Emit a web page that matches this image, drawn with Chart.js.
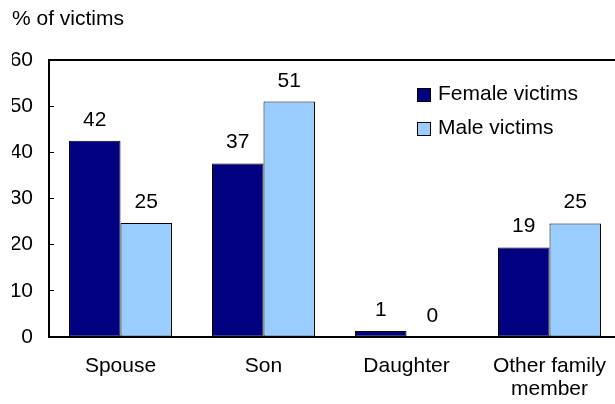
<!DOCTYPE html>
<html><head><meta charset="utf-8">
<script src="https://cdn.jsdelivr.net/npm/chart.js@4"></script>
<style>
html,body{margin:0;padding:0;overflow:hidden;background:#fff;width:615px;height:404px}
#wrap{position:absolute;left:0;top:0;width:625px;height:404px}
</style>
</head><body><div id="wrap"><canvas id="c"></canvas></div>
<script>
const categories = ['Spouse', 'Son', 'Daughter', ['Other family', 'member']];
const femaleValues = [42.5, 37.6, 1.3, 19.4];
const maleValues = [24.7, 51.0, 0, 24.6];
const femaleLabels = ['42', '37', '1', '19'];
const maleLabels = ['25', '51', '0', '25'];
const seriesNames = ['Female victims', 'Male victims'];
const yTitle = '% of victims';
const yMin = 0, yMax = 60, yStep = 10;

const FONT = '"Liberation Sans", Arial, sans-serif';
const FS = 21;
Chart.defaults.font.family = FONT;
Chart.defaults.font.size = FS;
Chart.defaults.color = '#000';

const valueLabelPlugin = {
  id: 'valueLabels',
  afterDatasetsDraw(chart) {
    const ctx = chart.ctx;
    ctx.save();
    ctx.font = FS + 'px ' + FONT;
    ctx.fillStyle = '#000';
    ctx.textAlign = 'center';
    ctx.textBaseline = 'alphabetic';
    chart.data.datasets.forEach((ds, di) => {
      const meta = chart.getDatasetMeta(di);
      meta.data.forEach((bar, i) => {
        ctx.fillText(ds.valueLabels[i], bar.x, bar.y - 15);
      });
    });
    ctx.restore();
  }
};

const legendPlugin = {
  id: 'boxLegend',
  afterDraw(chart) {
    const ctx = chart.ctx;
    ctx.save();
    ctx.font = FS + 'px ' + FONT;
    ctx.textBaseline = 'alphabetic';
    ctx.textAlign = 'left';
    chart.data.datasets.forEach((ds, i) => {
      const y = 88 + i * 34;
      ctx.fillStyle = ds.backgroundColor;
      ctx.fillRect(417, y, 14, 14);
      ctx.strokeStyle = '#000';
      ctx.lineWidth = 1;
      ctx.strokeRect(417.5, y + 0.5, 13, 13);
      ctx.fillStyle = '#000';
      ctx.fillText(ds.label, 438, y + 12);
    });
    ctx.restore();
  }
};

new Chart(document.getElementById('c'), {
  type: 'bar',
  data: {
    labels: categories,
    datasets: [
      { label: seriesNames[0], data: femaleValues, valueLabels: femaleLabels,
        backgroundColor: '#000080', borderColor: '#000', borderWidth: 1, borderSkipped: false },
      { label: seriesNames[1], data: maleValues, valueLabels: maleLabels,
        backgroundColor: '#99CCFF', borderColor: '#000', borderWidth: 1, borderSkipped: false }
    ]
  },
  options: {
    responsive: true,
    maintainAspectRatio: false,
    animation: false,
    layout: { padding: { left: 12, right: 4, top: 0, bottom: 0 } },
    datasets: { bar: { categoryPercentage: 0.72, barPercentage: 1.0 } },
    plugins: {
      legend: { display: false },
      tooltip: { enabled: false },
      title: {
        display: true, text: yTitle, align: 'start', color: '#000',
        font: { size: FS, weight: 'normal' }, padding: { top: 7, bottom: 27.8 }
      }
    },
    scales: {
      x: {
        position: 'bottom',
        grid: { display: false, drawTicks: false },
        border: { display: true, color: '#000', width: 2 },
        ticks: { padding: 17, color: '#000', autoSkip: false, maxRotation: 0, font: { size: FS, lineHeight: 1.12 } },
        afterFit(s) { s.height = 67; }
      },
      xTop: {
        type: 'category',
        position: 'top',
        grid: { display: false, drawTicks: false },
        border: { display: true, color: '#000', width: 2 },
        ticks: { display: false },
        afterFit(s) { s.height = 0; }
      },
      y: {
        min: yMin, max: yMax,
        grid: { drawOnChartArea: false, drawTicks: true, tickLength: -5, color: '#000', lineWidth: 1 },
        border: { display: true, color: '#000', width: 2 },
        ticks: { stepSize: yStep, padding: 21, color: '#000', font: { size: FS } },
        afterFit(s) { s.width = 37; }
      }
    }
  },
  plugins: [valueLabelPlugin, legendPlugin]
});
</script>
</body></html>
